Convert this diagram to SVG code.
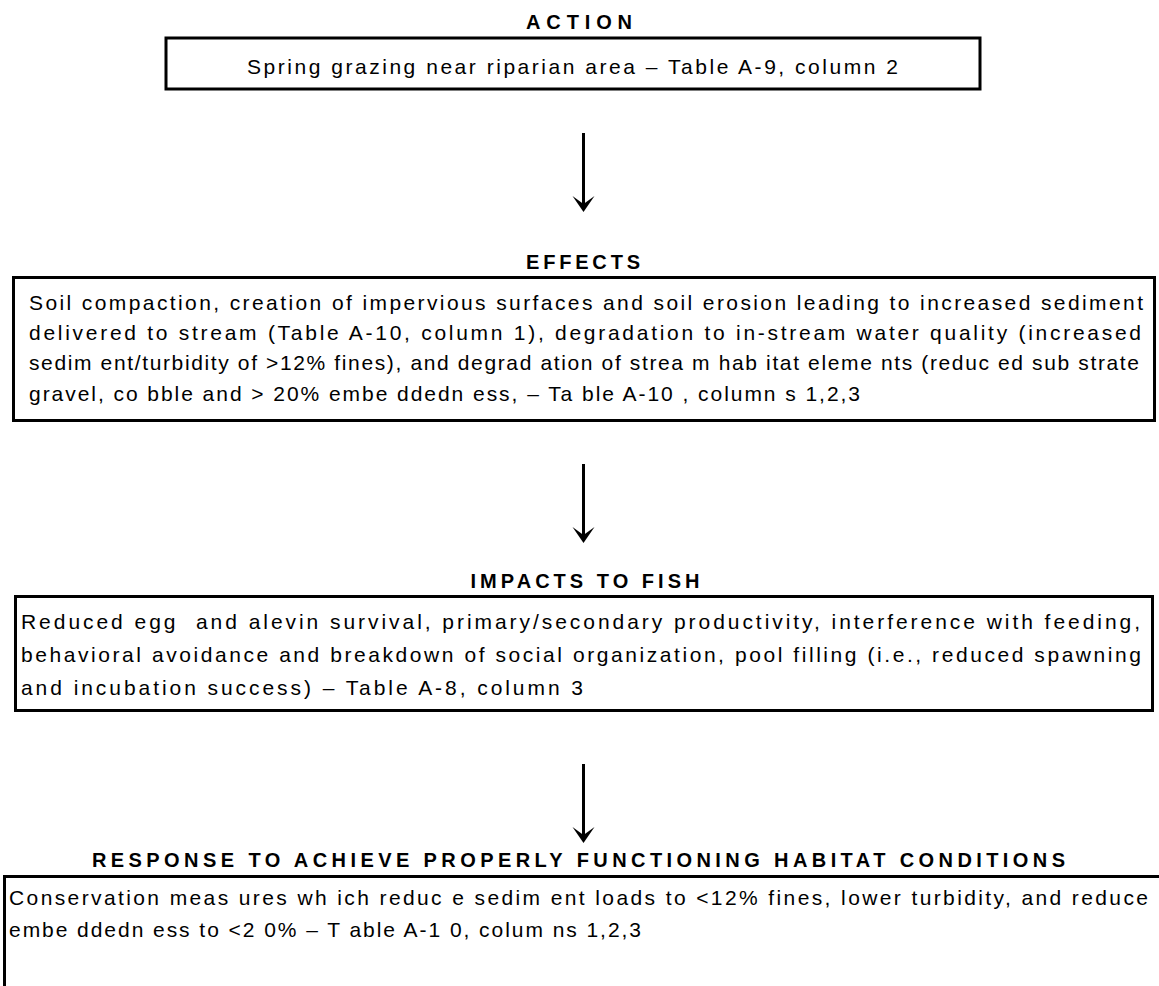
<svg xmlns="http://www.w3.org/2000/svg" width="1159" height="986" viewBox="0 0 1159 986">
<style>
.bg{fill:#fff}
.box{fill:none;stroke:#000;stroke-width:3}
.title{font-family:"Liberation Sans",Arial,sans-serif;font-size:20px;font-weight:bold;fill:#000}
.body{font-family:"Liberation Sans",Arial,sans-serif;font-size:21px;fill:#000}
.shaft{stroke:#000;stroke-width:3;fill:none}
.head{fill:#000}
</style>
<defs>
<path id="arrowhead" class="head" d="M0,0 L-11,-16 L0,-8 L11,-16 Z"/>
</defs>
<rect class="bg" x="0" y="0" width="1159" height="986"/>
<g id="action">
<text class="title" x="579" y="29" text-anchor="middle" textLength="106" lengthAdjust="spacing">ACTION</text>
<rect class="box" x="166" y="38" width="814" height="51"/>
<text class="body" x="247" y="74" textLength="651" lengthAdjust="spacing">Spring grazing near riparian area – Table A-9, column 2</text>
</g>
<g id="effects">
<text class="title" x="583" y="269" text-anchor="middle" textLength="114" lengthAdjust="spacing">EFFECTS</text>
<rect class="box" x="13.5" y="277.5" width="1141" height="143"/>
<text class="body" x="29" y="310" textLength="1114" lengthAdjust="spacing">Soil compaction, creation of impervious surfaces and soil erosion leading to increased sediment</text>
<text class="body" x="29" y="340" textLength="1112" lengthAdjust="spacing">delivered to stream (Table A-10, column 1), degradation to in-stream water quality (increased</text>
<text class="body" x="29" y="370" textLength="1110" lengthAdjust="spacing">sedim ent/turbidity of &gt;12% fines), and degrad ation of strea m hab itat eleme nts (reduc ed sub strate</text>
<text class="body" x="29" y="401" textLength="831" lengthAdjust="spacing">gravel, co bble and &gt; 20% embe ddedn ess, – Ta ble A-10 , column s 1,2,3</text>
</g>
<g id="impacts">
<text class="title" x="585" y="588" text-anchor="middle" textLength="229" lengthAdjust="spacing">IMPACTS TO FISH</text>
<rect class="box" x="15.5" y="596.5" width="1137" height="114"/>
<text class="body" x="21" y="629" textLength="1119" lengthAdjust="spacing">Reduced egg&#160; and alevin survival, primary/secondary productivity, interference with feeding,</text>
<text class="body" x="21" y="662" textLength="1120" lengthAdjust="spacing">behavioral avoidance and breakdown of social organization, pool filling (i.e., reduced spawning</text>
<text class="body" x="21" y="695" textLength="562" lengthAdjust="spacing">and incubation success) – Table A-8, column 3</text>
</g>
<g id="response">
<text class="title" x="578.5" y="867" text-anchor="middle" textLength="973" lengthAdjust="spacing">RESPONSE TO ACHIEVE PROPERLY FUNCTIONING HABITAT CONDITIONS</text>
<rect class="box" x="4.5" y="876.5" width="1170" height="200"/>
<text class="body" x="9" y="905" textLength="1139" lengthAdjust="spacing">Conservation meas ures wh ich reduc e sedim ent loads to &lt;12% fines, lower turbidity, and reduce</text>
<text class="body" x="9" y="937" textLength="632" lengthAdjust="spacing">embe ddedn ess to &lt;2 0% – T able A-1 0, colum ns 1,2,3</text>
</g>
<g id="connectors">
<line class="shaft" x1="583.5" y1="133" x2="583.5" y2="205"/>
<use href="#arrowhead" x="583.5" y="212"/>
<line class="shaft" x1="583.5" y1="464" x2="583.5" y2="536"/>
<use href="#arrowhead" x="583.5" y="543"/>
<line class="shaft" x1="583.5" y1="764" x2="583.5" y2="836"/>
<use href="#arrowhead" x="583.5" y="843"/>
</g>
</svg>
